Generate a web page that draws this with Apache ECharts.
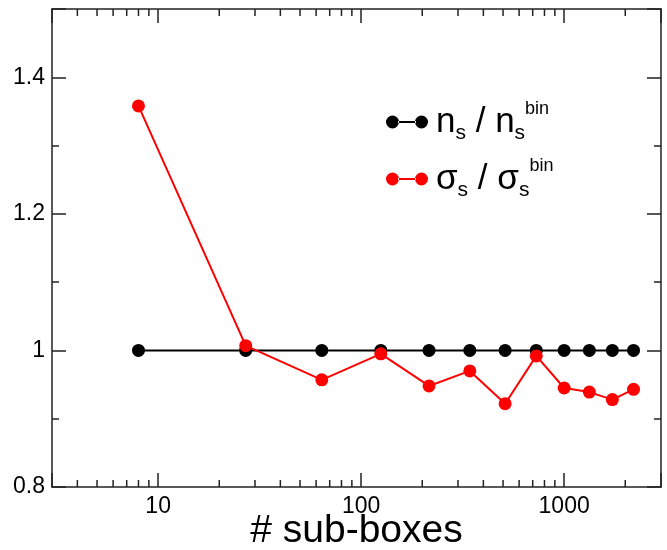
<!DOCTYPE html>
<html>
<head>
<meta charset="utf-8">
<script src="https://cdn.jsdelivr.net/npm/echarts@6/dist/echarts.min.js"></script>
<style>html,body{margin:0;padding:0;background:#fff;}#c{width:667px;height:550px;}</style>
</head>
<body>
<div id="c"></div>
<script>
// ---- data ----
var subBoxes = [8, 27, 64, 125, 216, 343, 512, 729, 1000, 1331, 1728, 2197];
var nRatio = [1, 1, 1, 1, 1, 1, 1, 1, 1, 1, 1, 1];
var sigmaRatio = [1.358, 1.007, 0.957, 0.995, 0.948, 0.970, 0.922, 0.992, 0.945, 0.939, 0.928, 0.943];
var xMinorTicks = [4, 5, 6, 7, 8, 9, 20, 30, 40, 50, 60, 70, 80, 90, 200, 300, 400, 500, 600, 700, 800, 900, 2000];
var xMajorLabels = [10, 100, 1000];
var yLabels = [0.8, 1, 1.2, 1.4];
var xRange = [3, 3000];
var yRange = [0.8, 1.5];

var FONT = '"Liberation Sans", Arial, Helvetica, sans-serif';
var AX = '#222';

var chart = echarts.init(document.getElementById('c'), null, {renderer: 'canvas'});

function yAx(pos, interval, len, labels, line) {
  return {
    type: 'value', position: pos, min: yRange[0], max: yRange[1], interval: interval,
    axisLine: {show: line, lineStyle: {color: AX, width: 1.5}},
    axisTick: {show: true, inside: true, length: len, lineStyle: {color: AX, width: 1.5}},
    axisLabel: labels ? {
      show: true, margin: 7, color: '#000', fontSize: 23, fontFamily: FONT,
      formatter: function (v) {
        for (var i = 0; i < yLabels.length; i++) if (Math.abs(v - yLabels[i]) < 1e-6) return String(yLabels[i]);
        return '';
      }
    } : {show: false},
    splitLine: {show: false}
  };
}
function xAx(pos, labels) {
  return {
    type: 'log', logBase: 10, position: pos, min: xRange[0], max: xRange[1],
    axisLine: {show: true, lineStyle: {color: AX, width: 1.5}},
    axisTick: {show: true, inside: true, length: 14, lineStyle: {color: AX, width: 1.5}},
    axisLabel: labels ? {
      show: true, margin: 8, color: '#000', fontSize: 23, fontFamily: FONT,
      formatter: function (v) {
        for (var i = 0; i < xMajorLabels.length; i++) if (Math.abs(v - xMajorLabels[i]) < 1e-6 * xMajorLabels[i]) return String(xMajorLabels[i]);
        return '';
      }
    } : {show: false},
    splitLine: {show: false},
    name: labels ? '# sub-boxes' : '',
    nameLocation: 'middle', nameGap: 25, nameMoveOverlap: false,
    nameTextStyle: {fontSize: 39, color: '#000', fontFamily: FONT, verticalAlign: 'top'}
  };
}

var legendRich = {
  a: {fontSize: 35, lineHeight: 44, color: '#000', fontFamily: FONT},
  s: {fontSize: 21, lineHeight: 10, verticalAlign: 'bottom', color: '#000', fontFamily: FONT},
  b: {fontSize: 18, lineHeight: 4, verticalAlign: 'top', color: '#000', fontFamily: FONT}
};

var iconPath = 'path://M0,6.5 a6.5,6.5 0 1,0 13,0 a6.5,6.5 0 1,0 -13,0 Z M29,6.5 a6.5,6.5 0 1,0 13,0 a6.5,6.5 0 1,0 -13,0 Z M12,5.5 L30,5.5 L30,7.5 L12,7.5 Z';

chart.setOption({
  animation: false,
  backgroundColor: '#fff',
  grid: {left: 52, right: 6, top: 9, bottom: 63, containLabel: false, outerBoundsMode: 'none'},
  xAxis: [xAx('bottom', true), xAx('top', false)],
  yAxis: [yAx('left', 0.2, 14, true, true), yAx('left', 0.1, 7, false, false),
          yAx('right', 0.2, 14, false, true), yAx('right', 0.1, 7, false, false)],
  legend: {
    show: true, orient: 'vertical', left: 386, top: 100, itemGap: 13, padding: 0,
    itemWidth: 42, itemHeight: 13,
    data: [{name: 'n', icon: iconPath}, {name: 'sigma', icon: iconPath}],
    textStyle: {rich: legendRich, padding: [0, 0, 0, 3]},
    formatter: function (name) {
      if (name === 'n') return '{a|n}{s|s}{a| / n}{s|s}{b|bin}';
      return '{a|σ}{s|s}{a| / σ}{s|s}{b|bin}';
    }
  },
  series: [
    {
      type: 'custom', name: 'minorTicks', xAxisIndex: 0, yAxisIndex: 0, silent: true, clip: false,
      data: xMinorTicks.map(function (v) { return [v, yRange[0]]; }),
      encode: {x: 0, y: 1},
      renderItem: function (params, api) {
        var v = api.value(0);
        var b = api.coord([v, yRange[0]]);
        var t = api.coord([v, yRange[1]]);
        var st = {stroke: AX, lineWidth: 1.5};
        return {type: 'group', children: [
          {type: 'line', shape: {x1: b[0], y1: b[1], x2: b[0], y2: b[1] - 7}, style: st},
          {type: 'line', shape: {x1: t[0], y1: t[1], x2: t[0], y2: t[1] + 7}, style: st}
        ]};
      }
    },
    {
      type: 'line', name: 'n', xAxisIndex: 0, yAxisIndex: 0,
      data: subBoxes.map(function (x, i) { return [x, nRatio[i]]; }),
      symbol: 'circle', symbolSize: 13, showSymbol: true,
      itemStyle: {color: '#000'}, lineStyle: {color: '#000', width: 2}
    },
    {
      type: 'line', name: 'sigma', xAxisIndex: 0, yAxisIndex: 0,
      data: subBoxes.map(function (x, i) { return [x, sigmaRatio[i]]; }),
      symbol: 'circle', symbolSize: 13, showSymbol: true,
      itemStyle: {color: '#ff0000'}, lineStyle: {color: '#ff0000', width: 2}
    }
  ]
});
</script>
</body>
</html>
